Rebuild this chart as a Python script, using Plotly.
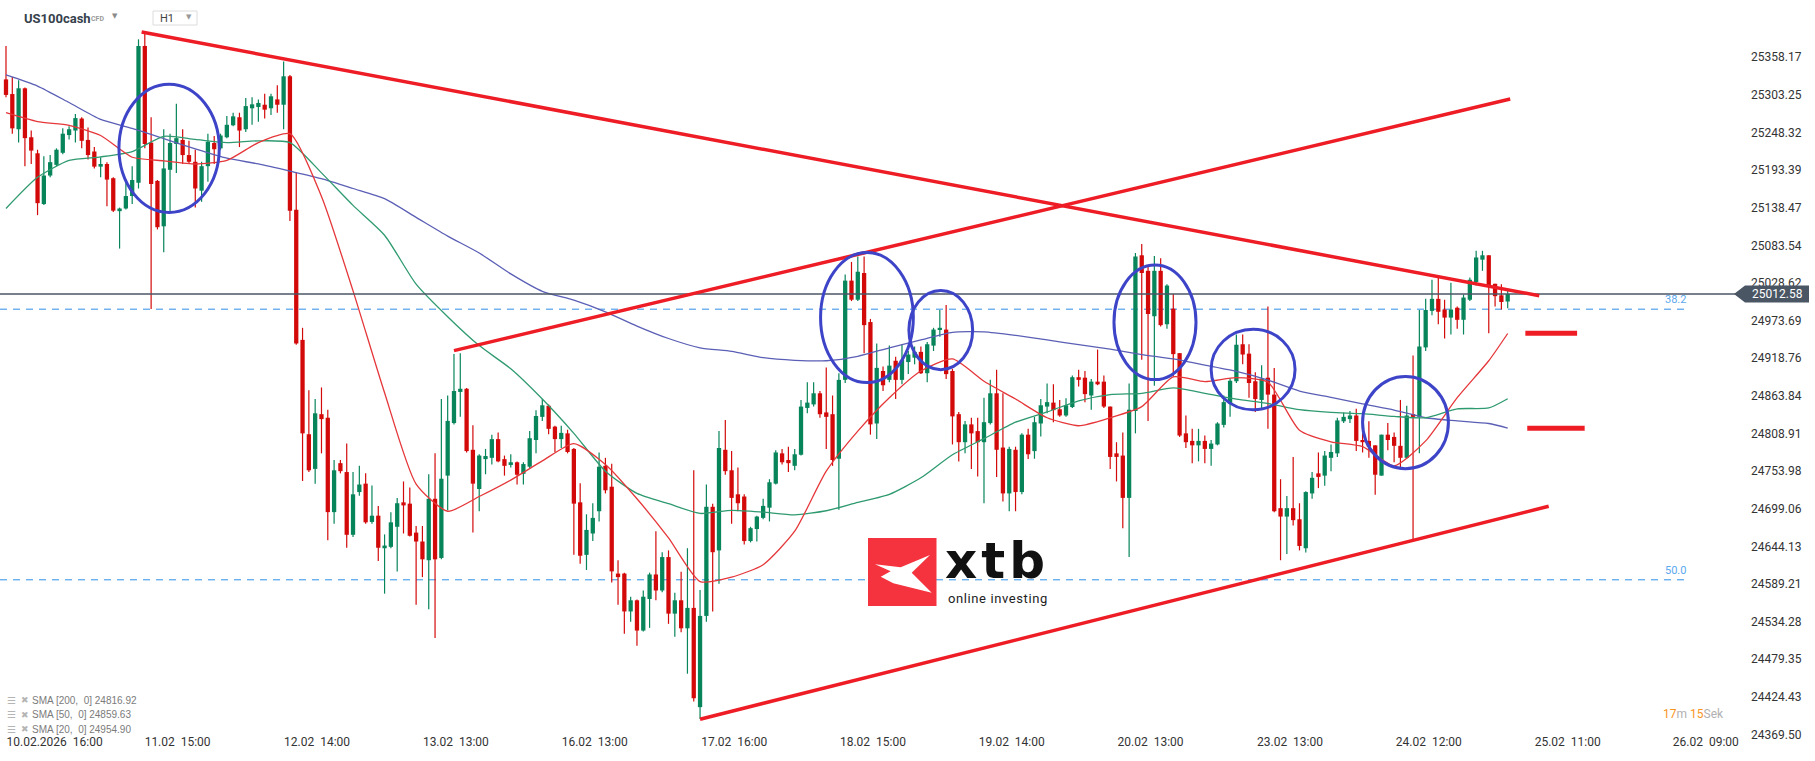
import plotly.graph_objects as go

# ---------------- data ----------------
opens = [
25325.9, 25304.5, 25253.1, 25312.9, 25241.4, 25218.0, 25143.9, 25185.5, 25201.1, 25218.7,
25244.6, 25251.2, 25268.7, 25237.5, 25220.6, 25198.5, 25202.4, 25181.6, 25133.5, 25137.4,
25155.6, 25175.1, 25374.7, 25233.6, 25177.7, 25111.4, 25193.9, 25231.6, 25237.5, 25215.4,
25205.6, 25163.4, 25199.2, 25233.0, 25225.2, 25241.4, 25258.9, 25270.6, 25253.1, 25283.7,
25285.6, 25288.9, 25283.7, 25296.7, 25288.9, 25330.4, 25135.5, 24945.6, 24807.8, 24757.2,
24837.1, 24831.9, 24694.1, 24765.6, 24752.6, 24661.0, 24723.4, 24735.7, 24679.8, 24688.9,
24641.4, 24643.4, 24672.7, 24708.4, 24706.5, 24664.2, 24651.2, 24623.9, 24713.6, 24627.2,
24747.4, 24824.1, 24869.6, 24874.2, 24785.1, 24727.9, 24771.5, 24773.4, 24800.7, 24771.5,
24763.0, 24766.9, 24750.0, 24760.4, 24799.4, 24833.2, 24849.4, 24818.9, 24800.7, 24809.1,
24786.4, 24708.4, 24631.7, 24662.9, 24695.4, 24761.7, 24731.2, 24604.4, 24604.4, 24549.1,
24565.4, 24521.2, 24567.3, 24603.1, 24579.7, 24628.5, 24545.9, 24565.4, 24524.5, 24554.3,
24409.4, 24542.6, 24701.9, 24638.2, 24785.1, 24755.2, 24720.1, 24716.9, 24651.9, 24669.4,
24685.7, 24700.6, 24735.7, 24779.9, 24770.2, 24761.7, 24777.9, 24846.2, 24851.4, 24867.6,
24839.7, 24837.1, 24772.1, 24887.2, 25032.1, 25004.2, 25043.2, 24971.6, 24823.5, 24900.2,
24887.2, 24915.1, 24887.2, 24913.2, 24919.6, 24928.1, 24896.9, 24937.2, 24960.6, 24960.6,
24900.2, 24837.1, 24796.2, 24822.2, 24812.4, 24796.2, 24824.1, 24867.6, 24788.4, 24721.4,
24785.1, 24723.4, 24807.2, 24783.2, 24823.5, 24848.2, 24854.0, 24844.2, 24835.2, 24847.5,
24891.1, 24890.4, 24864.4, 24884.6, 24884.6, 24848.2, 24779.9, 24776.7, 24714.9, 24841.7,
25069.1, 25046.4, 24980.1, 25046.4, 24968.4, 24991.2, 24926.2, 24809.1, 24798.1, 24791.6,
24798.1, 24786.4, 24792.9, 24821.5, 24852.7, 24885.2, 24939.2, 24925.5, 24885.2, 24857.9,
24890.4, 24865.7, 24699.9, 24687.6, 24699.9, 24683.7, 24641.4, 24721.4, 24750.7, 24747.4,
24773.4, 24779.9, 24826.7, 24829.9, 24835.2, 24799.4, 24798.1, 24791.6, 24747.4, 24807.2,
24803.9, 24790.9, 24773.4, 24837.1, 24833.2, 24934.6, 24987.9, 25005.5, 24989.9, 24978.1,
24992.5, 24974.9, 25004.2, 25030.1, 25062.7, 25069.1, 25027.5, 25010.7, 25001.6]

closes = [
25303.2, 25254.4, 25312.9, 25240.1, 25221.9, 25145.2, 25185.5, 25205.0, 25223.2, 25246.6,
25253.1, 25269.4, 25236.2, 25215.4, 25198.5, 25202.4, 25179.6, 25134.2, 25137.4, 25155.6,
25179.0, 25374.7, 25231.6, 25173.2, 25110.1, 25195.9, 25233.0, 25240.1, 25215.4, 25205.6,
25166.6, 25199.2, 25234.9, 25223.9, 25244.0, 25259.6, 25271.9, 25251.2, 25286.9, 25289.5,
25291.5, 25281.7, 25301.2, 25288.9, 25330.4, 25134.2, 24940.4, 24809.1, 24755.2, 24838.4,
24829.9, 24694.1, 24755.2, 24753.9, 24661.0, 24720.1, 24734.4, 24679.2, 24688.9, 24642.1,
24645.3, 24679.2, 24707.1, 24703.9, 24659.6, 24651.2, 24625.2, 24713.6, 24625.2, 24742.9,
24827.3, 24870.9, 24874.2, 24783.2, 24735.7, 24776.7, 24776.0, 24800.7, 24768.2, 24761.7,
24766.9, 24748.7, 24764.3, 24802.0, 24834.5, 24850.1, 24815.7, 24800.7, 24809.8, 24781.9,
24706.5, 24630.4, 24668.1, 24685.7, 24760.4, 24726.0, 24607.6, 24599.2, 24549.1, 24565.4,
24521.2, 24570.6, 24603.1, 24579.7, 24628.5, 24545.9, 24565.4, 24524.5, 24554.3, 24422.4,
24542.6, 24701.9, 24635.6, 24787.7, 24753.9, 24714.9, 24707.1, 24651.9, 24670.7, 24687.6,
24703.2, 24737.7, 24781.2, 24766.9, 24765.6, 24778.6, 24848.2, 24854.0, 24867.6, 24837.1,
24833.2, 24770.2, 24887.2, 25032.1, 25004.2, 25045.1, 24967.1, 24822.2, 24904.7, 24879.3,
24908.0, 24887.2, 24916.4, 24924.2, 24928.1, 24896.9, 24939.2, 24960.6, 24963.2, 24895.6,
24833.9, 24796.2, 24822.2, 24809.1, 24796.2, 24825.4, 24867.6, 24785.1, 24721.4, 24786.4,
24723.4, 24807.2, 24778.6, 24825.4, 24850.1, 24854.7, 24843.0, 24835.2, 24850.1, 24891.1,
24887.2, 24866.4, 24884.6, 24880.7, 24848.2, 24774.7, 24774.7, 24714.9, 24843.6, 25067.2,
25043.2, 24983.4, 25046.4, 24967.1, 25024.9, 24924.8, 24805.9, 24796.2, 24791.6, 24798.1,
24786.4, 24794.2, 24823.5, 24854.7, 24885.9, 24938.5, 24924.2, 24882.6, 24859.2, 24889.1,
24865.7, 24695.4, 24687.6, 24699.9, 24682.4, 24644.7, 24723.4, 24744.2, 24745.5, 24776.7,
24781.9, 24828.0, 24833.2, 24835.2, 24798.1, 24796.2, 24789.6, 24748.7, 24807.2, 24799.4,
24790.9, 24773.4, 24835.2, 24833.2, 24935.9, 24989.2, 25005.5, 24986.6, 24978.1, 24989.9,
24974.9, 25007.4, 25033.4, 25065.9, 25069.1, 25023.6, 25009.4, 25000.9, 25012.58]

highs = [
25374.7, 25329.2, 25324.6, 25314.2, 25251.2, 25223.2, 25213.5, 25215.4, 25225.2, 25254.4,
25257.6, 25275.2, 25270.6, 25255.7, 25227.1, 25212.2, 25205.0, 25182.9, 25138.7, 25179.6,
25199.2, 25384.4, 25394.2, 25270.6, 25179.0, 25253.1, 25246.6, 25290.2, 25253.1, 25236.2,
25223.2, 25205.6, 25246.6, 25243.4, 25246.6, 25272.6, 25277.2, 25277.2, 25298.6, 25299.9,
25296.7, 25305.1, 25305.1, 25317.4, 25351.9, 25332.4, 25189.4, 24963.2, 24872.2, 24859.2,
24876.1, 24843.6, 24770.2, 24770.2, 24794.2, 24752.6, 24761.7, 24750.7, 24733.1, 24703.2,
24661.6, 24694.1, 24714.9, 24738.9, 24729.9, 24673.9, 24673.9, 24749.4, 24779.9, 24859.2,
24864.4, 24924.8, 24926.2, 24875.5, 24820.9, 24778.6, 24786.4, 24807.2, 24810.5, 24776.7,
24778.6, 24768.2, 24766.9, 24812.4, 24843.0, 24859.2, 24851.4, 24820.2, 24820.2, 24814.4,
24787.7, 24736.4, 24690.9, 24707.1, 24781.2, 24773.4, 24764.9, 24623.9, 24605.7, 24570.6,
24566.7, 24579.7, 24605.7, 24666.2, 24635.6, 24638.2, 24576.5, 24607.0, 24641.4, 24755.2,
24580.3, 24734.4, 24706.5, 24812.4, 24828.6, 24783.2, 24759.1, 24720.1, 24672.7, 24688.9,
24713.6, 24742.2, 24784.4, 24786.4, 24789.6, 24786.4, 24857.9, 24883.9, 24883.9, 24870.9,
24905.3, 24864.4, 24896.9, 25041.2, 25059.4, 25067.2, 25067.2, 24976.2, 24940.4, 24906.7,
24937.2, 24920.9, 24939.2, 24929.4, 24935.9, 24935.9, 24942.4, 24963.2, 24989.2, 24996.4,
24903.4, 24840.4, 24827.3, 24831.9, 24831.9, 24861.2, 24887.2, 24902.1, 24867.6, 24789.6,
24789.6, 24809.1, 24815.7, 24833.2, 24859.2, 24881.9, 24880.7, 24857.9, 24860.5, 24893.7,
24902.1, 24900.2, 24888.5, 24931.4, 24893.7, 24848.2, 24796.2, 24810.5, 24881.9, 25072.4,
25085.4, 25054.2, 25067.9, 25064.6, 25026.9, 25012.6, 24926.2, 24835.2, 24815.7, 24815.7,
24805.9, 24799.4, 24825.4, 24864.4, 24889.1, 24953.4, 24953.4, 24939.2, 24898.2, 24908.6,
24994.4, 24904.7, 24742.2, 24717.5, 24774.7, 24707.1, 24724.7, 24752.6, 24781.2, 24783.2,
24792.9, 24831.9, 24839.7, 24841.7, 24844.9, 24809.1, 24826.7, 24791.6, 24807.2, 24824.1,
24810.5, 24857.9, 24849.4, 24922.9, 24989.2, 25005.5, 25033.4, 25038.6, 25004.2, 25028.9,
24994.4, 25011.9, 25036.7, 25075.7, 25075.7, 25069.1, 25027.5, 25026.9, 25017.8]

lows = [
25299.9, 25246.6, 25233.6, 25199.2, 25202.4, 25127.7, 25142.6, 25182.9, 25199.2, 25216.7,
25238.1, 25233.6, 25225.2, 25208.9, 25195.9, 25182.9, 25140.6, 25132.2, 25078.9, 25136.1,
25143.9, 25166.6, 25225.2, 24990.5, 25106.9, 25073.7, 25130.9, 25189.4, 25202.4, 25202.4,
25138.7, 25147.2, 25176.4, 25202.4, 25223.2, 25240.1, 25257.6, 25227.1, 25249.2, 25259.6,
25264.2, 25268.7, 25273.9, 25277.2, 25253.1, 25119.2, 24938.5, 24739.6, 24752.6, 24735.7,
24779.9, 24653.2, 24677.2, 24750.7, 24642.1, 24657.7, 24718.2, 24677.2, 24677.2, 24622.6,
24575.1, 24641.4, 24607.6, 24662.9, 24658.4, 24558.9, 24599.2, 24552.4, 24510.2, 24625.2,
24696.7, 24822.2, 24833.2, 24781.2, 24664.2, 24695.4, 24749.4, 24763.7, 24766.9, 24747.4,
24759.1, 24734.4, 24734.4, 24758.5, 24779.9, 24827.3, 24807.8, 24781.9, 24787.7, 24779.9,
24631.7, 24618.7, 24609.6, 24651.9, 24680.5, 24721.4, 24591.4, 24558.9, 24516.6, 24534.2,
24499.1, 24519.9, 24525.1, 24565.4, 24577.1, 24531.0, 24512.1, 24518.6, 24458.2, 24417.8,
24391.9, 24534.2, 24549.1, 24589.4, 24748.7, 24677.2, 24695.4, 24646.7, 24649.9, 24651.2,
24683.7, 24680.5, 24734.4, 24763.7, 24752.6, 24755.2, 24776.7, 24838.4, 24848.2, 24831.9,
24786.4, 24761.7, 24697.4, 24882.6, 25002.2, 25002.2, 24926.2, 24807.2, 24800.7, 24870.9,
24883.9, 24859.2, 24880.7, 24895.6, 24909.9, 24895.6, 24883.9, 24929.4, 24950.2, 24888.5,
24792.9, 24768.2, 24779.9, 24757.2, 24746.1, 24707.1, 24822.2, 24745.5, 24709.7, 24695.4,
24695.4, 24720.1, 24771.5, 24772.1, 24804.6, 24838.4, 24825.4, 24833.2, 24833.2, 24846.2,
24877.4, 24854.7, 24843.6, 24879.4, 24846.2, 24757.2, 24738.9, 24670.7, 24628.5, 24809.1,
24916.4, 24827.3, 24878.7, 24965.2, 24961.9, 24891.7, 24803.9, 24787.7, 24765.6, 24768.2,
24765.6, 24761.7, 24791.6, 24817.6, 24833.2, 24882.6, 24909.9, 24861.2, 24840.4, 24844.9,
24815.7, 24694.1, 24623.9, 24633.0, 24674.6, 24638.2, 24635.0, 24713.6, 24729.2, 24732.5,
24753.9, 24774.7, 24824.1, 24824.1, 24783.2, 24781.2, 24773.4, 24719.5, 24747.4, 24784.4,
24766.9, 24757.2, 24772.1, 24654.5, 24779.9, 24929.4, 24981.4, 24968.4, 24947.6, 24953.4,
24961.9, 24953.4, 25002.2, 25024.9, 25046.4, 24955.4, 24994.4, 24989.9, 24991.8]

# moving averages read at every 5th bar
sma_idx = list(range(0, 240, 5)) + [238]
sma200 = [25332.4, 25316.2, 25292.1, 25267.4, 25254.4, 25239.4, 25224.5, 25210.9, 25202.4, 25192.0,
          25181.0, 25166.6, 25151.7, 25124.4, 25097.1, 25072.4, 25041.9, 25016.5, 25003.5, 24986.6,
          24965.8, 24947.6, 24934.0, 24928.8, 24919.6, 24915.8, 24915.1, 24921.6, 24934.0, 24945.6,
          24956.7, 24957.4, 24952.2, 24945.6, 24938.5, 24932.0, 24924.2, 24917.7, 24908.6, 24899.5,
          24886.9, 24870.9, 24861.8, 24852.1, 24843.0, 24831.9, 24827.4, 24823.5, 24816.92]
sma50 = [25137.4, 25182.9, 25207.6, 25212.8, 25220.6, 25242.7, 25238.2, 25233.6, 25236.2, 25233.6,
         25189.4, 25141.9, 25098.4, 25026.9, 24979.4, 24937.2, 24903.4, 24859.2, 24809.1, 24753.9,
         24721.4, 24706.5, 24692.2, 24696.7, 24694.1, 24690.2, 24696.1, 24708.4, 24720.1, 24744.2,
         24777.9, 24801.4, 24825.4, 24840.4, 24856.6, 24865.7, 24867.6, 24875.5, 24867.6, 24859.2,
         24852.7, 24843.6, 24839.7, 24837.8, 24833.9, 24831.9, 24844.9, 24846.2, 24859.63]
sma20 = [25277.2, 25264.2, 25258.9, 25244.0, 25212.2, 25207.0, 25202.4, 25207.6, 25233.6, 25246.6,
         25154.9, 25017.2, 24868.3, 24735.0, 24695.4, 24716.9, 24740.9, 24768.9, 24794.2, 24763.7,
         24713.6, 24656.4, 24592.7, 24599.2, 24617.4, 24666.2, 24753.9, 24812.4, 24861.2, 24900.2,
         24917.7, 24885.2, 24859.2, 24831.9, 24820.2, 24831.9, 24848.2, 24891.7, 24884.6, 24890.4,
         24883.9, 24813.7, 24796.8, 24789.6, 24761.7, 24798.1, 24861.2, 24915.1, 24954.90]

x_tick_pos = [7.7, 27.2, 49.3, 71.3, 93.3, 115.4, 137.4, 159.4, 181.4, 203.5, 225.5, 247.5, 269.4]
x_tick_text = ["10.02.2026  16:00", "11.02  15:00", "12.02  14:00", "13.02  13:00", "16.02  13:00",
               "17.02  16:00", "18.02  15:00", "19.02  14:00", "20.02  13:00", "23.02  13:00",
               "24.02  12:00", "25.02  11:00", "26.02  09:00"]
y_tick_text = ["24369.50", "24424.43", "24479.35", "24534.28", "24589.21", "24644.13", "24699.06",
               "24753.98", "24808.91", "24863.84", "24918.76", "24973.69", "25028.62", "25083.54",
               "25138.47", "25193.39", "25248.32", "25303.25", "25358.17"]

last_price = 25012.58
fib_levels = [("38.2", 24990.4), ("50.0", 24595.3)]
sma_legend = [("SMA [200,  0]", "24816.92"), ("SMA [50,  0]", "24859.63"), ("SMA [20,  0]", "24954.90")]

# drawn annotations (bar index, price)
trend_lines = [(21.5, 25395.1, 243.0, 25010.1),
               (71.0, 24929.9, 238.4, 25297.3),
               (110.0, 24391.8, 244.5, 24702.6)]
level_marks = [(240.8, 249.0, 24955.2), (241.1, 250.2, 24816.5)]
circles = [(17.9, 33.8, 25131.6, 25318.8), (129.1, 143.8, 24883.2, 25073.0),
           (143.1, 153.2, 24902.1, 25017.7), (175.6, 188.6, 24887.7, 25054.9),
           (191.0, 204.3, 24843.5, 24961.2), (215.0, 228.6, 24757.6, 24892.3)]

# ---------------- styling ----------------
UP = "#08855a"
DOWN = "#d30a0a"
TREND = "#ee1c25"
CIRCLE = "#3d44c8"
Y_RANGE = [24365.8, 25441.8]
X_RANGE = [-0.95, 274.5]
W, H = 1815, 761
ML, MR, MT, MB = 0, 77, 0, 24
PW, PH = W - ML - MR, H - MT - MB


def px(v):
    return v / PW


def py(v):
    return 1 - v / PH


n = len(closes)
fig = go.Figure()

# wicks
for up_flag, col in ((True, UP), (False, DOWN)):
    wx, wy = [], []
    for i in range(n):
        if (closes[i] >= opens[i]) == up_flag:
            wx += [i, i, None]
            wy += [lows[i], highs[i], None]
    fig.add_trace(go.Scatter(x=wx, y=wy, mode="lines", line=dict(color=col, width=1.2),
                             hoverinfo="skip", showlegend=False))

# bodies
for up_flag, col in ((True, UP), (False, DOWN)):
    bx, bb, bh = [], [], []
    for i in range(n):
        if (closes[i] >= opens[i]) == up_flag:
            bx.append(i)
            bb.append(min(opens[i], closes[i]))
            bh.append(max(abs(closes[i] - opens[i]), 2.0))
    fig.add_trace(go.Bar(x=bx, y=bh, base=bb, width=0.68, marker=dict(color=col, line=dict(width=0)),
                         hoverinfo="skip", showlegend=False))

# moving averages
for vals, col in ((sma200, "#5b5fb5"), (sma50, "#2f9a70"), (sma20, "#e5373a")):
    fig.add_trace(go.Scatter(x=sma_idx, y=vals, mode="lines",
                             line=dict(color=col, width=1.3, shape="spline", smoothing=0.6),
                             hoverinfo="skip", showlegend=False))

shapes = []
annotations = []

# fib levels
for lab, lvl in fib_levels:
    shapes.append(dict(type="line", xref="paper", yref="y", x0=0, x1=px(1690), y0=lvl, y1=lvl,
                       line=dict(color="#2f8fe8", width=1, dash="7px,6px"), layer="below"))
    annotations.append(dict(xref="paper", yref="y", x=px(1688), y=lvl, text=lab, showarrow=False,
                            xanchor="right", yanchor="bottom", yshift=1,
                            font=dict(family="Roboto", size=11, color="#5aa8ee")))

# current price line + label
shapes.append(dict(type="line", xref="paper", yref="y", x0=0, x1=1, y0=last_price, y1=last_price,
                   line=dict(color="#4a5664", width=1.5)))
dy = 8.5 * (Y_RANGE[1] - Y_RANGE[0]) / PH
shapes.append(dict(type="path", xref="paper", yref="y",
                   path=f"M {px(1734)} {last_price} L {px(1745)} {last_price + dy} "
                        f"L {px(1809)} {last_price + dy} L {px(1809)} {last_price - dy} "
                        f"L {px(1745)} {last_price - dy} Z",
                   fillcolor="#4a5664", line=dict(width=0)))
annotations.append(dict(xref="paper", yref="y", x=px(1777), y=last_price, text=f"{last_price:.2f}",
                        showarrow=False, xanchor="center", yanchor="middle",
                        font=dict(family="Roboto", size=12, color="white")))

# trend lines
for x0, y0, x1, y1 in trend_lines:
    shapes.append(dict(type="line", xref="x", yref="y", x0=x0, y0=y0, x1=x1, y1=y1,
                       line=dict(color=TREND, width=3.5)))
for x0, x1, yv in level_marks:
    shapes.append(dict(type="line", xref="x", yref="y", x0=x0, y0=yv, x1=x1, y1=yv,
                       line=dict(color=TREND, width=5)))
for x0, x1, y0, y1 in circles:
    shapes.append(dict(type="circle", xref="x", yref="y", x0=x0, x1=x1, y0=y0, y1=y1,
                       line=dict(color=CIRCLE, width=3)))

# header
annotations.append(dict(xref="paper", yref="paper", x=px(22), y=py(18), text="<b>US100cash</b>",
                        showarrow=False, xanchor="left", yanchor="middle",
                        font=dict(family="Roboto", size=13, color="#36414c")))
annotations.append(dict(xref="paper", yref="paper", x=px(89), y=py(19), text="<b>CFD</b>",
                        showarrow=False, xanchor="left", yanchor="middle",
                        font=dict(family="Roboto", size=7, color="#9a9a9a")))
annotations.append(dict(xref="paper", yref="paper", x=px(110), y=py(16), text="▼",
                        showarrow=False, xanchor="left", yanchor="middle",
                        font=dict(family="DejaVu Sans", size=7, color="#8a8a8a")))
shapes.append(dict(type="rect", xref="paper", yref="paper", x0=px(153), x1=px(197), y0=py(11), y1=py(25),
                   line=dict(color="#dcdcdc", width=1), fillcolor="white"))
annotations.append(dict(xref="paper", yref="paper", x=px(158), y=py(18.5), text="H1",
                        showarrow=False, xanchor="left", yanchor="middle",
                        font=dict(family="Roboto", size=11, color="#444")))
annotations.append(dict(xref="paper", yref="paper", x=px(184), y=py(17), text="▼",
                        showarrow=False, xanchor="left", yanchor="middle",
                        font=dict(family="DejaVu Sans", size=7, color="#999")))

# SMA legend
for k, (lab, val) in enumerate(sma_legend):
    yy = py(700 + 14.5 * k)
    annotations.append(dict(xref="paper", yref="paper", x=px(5), y=yy, text="☰",
                            showarrow=False, xanchor="left", yanchor="middle",
                            font=dict(family="DejaVu Sans", size=10, color="#b5b5b5")))
    annotations.append(dict(xref="paper", yref="paper", x=px(19), y=yy, text="✖",
                            showarrow=False, xanchor="left", yanchor="middle",
                            font=dict(family="DejaVu Sans", size=9, color="#b5b5b5")))
    annotations.append(dict(xref="paper", yref="paper", x=px(30), y=yy,
                            text=lab.replace("  ", "\u00a0\u00a0") + " " + val,
                            showarrow=False, xanchor="left", yanchor="middle",
                            font=dict(family="Arial", size=10, color="#7b7b7b")))

# countdown
annotations.append(dict(xref="paper", yref="paper", x=px(1726), y=py(714),
                        text="<span style='color:#f7941d'>17</span>m <span style='color:#f7941d'>15</span>Sek",
                        showarrow=False, xanchor="right", yanchor="middle",
                        font=dict(family="Roboto", size=12, color="#b0b0b0")))

# xtb watermark
shapes.append(dict(type="rect", xref="paper", yref="paper", x0=px(868), x1=px(936.5), y0=py(538), y1=py(606),
                   fillcolor="#f4333e", line=dict(width=0), layer="below"))
xpts = [(875, 564.3), (900.7, 567.3), (930, 555), (911.7, 572.7), (931.7, 592.7),
        (893.3, 583.3), (880.7, 576.7), (890.7, 571.3)]
xpath = "M " + " L ".join(f"{px(a)} {py(b)}" for a, b in xpts) + " Z"
shapes.append(dict(type="path", xref="paper", yref="paper", path=xpath, fillcolor="white",
                   line=dict(width=0), layer="below"))
annotations.append(dict(xref="paper", yref="paper", x=px(944), y=py(560.5),
                        text="<b><span style='letter-spacing:4px'>xtb</span></b>",
                        showarrow=False, xanchor="left", yanchor="middle", borderpad=0,
                        font=dict(family="DejaVu Sans", size=50, color="#111111")))
annotations.append(dict(xref="paper", yref="paper", x=px(947), y=py(598.5),
                        text="<span style='letter-spacing:0.6px'>online investing</span>",
                        showarrow=False, xanchor="left", yanchor="middle", borderpad=0,
                        font=dict(family="Roboto", size=13, color="#222222")))

fig.update_layout(
    width=W, height=H, margin=dict(l=ML, r=MR, t=MT, b=MB),
    paper_bgcolor="white", plot_bgcolor="white", barmode="overlay",
    showlegend=False, hovermode=False,
    shapes=shapes, annotations=annotations,
    xaxis=dict(range=X_RANGE, showgrid=False, zeroline=False, showline=False, ticks="",
               tickvals=x_tick_pos, ticktext=[t.replace("  ", "\u00a0\u00a0") for t in x_tick_text],
               tickfont=dict(family="Roboto", size=12, color="#333"), ticklabelstandoff=-4,
               automargin=False, fixedrange=True),
    yaxis=dict(range=Y_RANGE, side="right", showgrid=False, zeroline=False, showline=False, ticks="",
               tickvals=[float(t) for t in y_tick_text], ticktext=y_tick_text,
               tickfont=dict(family="Roboto", size=12, color="#333"), ticklabelstandoff=12,
               automargin=False, fixedrange=True),
)

fig.write_html("out.html", config={"displayModeBar": False},
               post_script="document.body.style.margin='0';")
